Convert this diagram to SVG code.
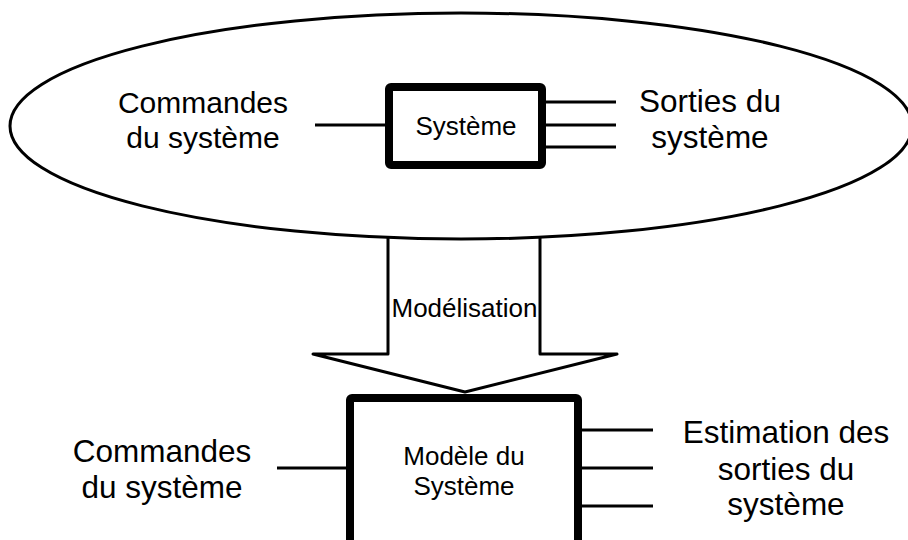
<svg xmlns="http://www.w3.org/2000/svg" width="908" height="540" viewBox="0 0 908 540">
<style>
text{font-family:"Liberation Sans",Arial,sans-serif;fill:#000;text-anchor:middle}
.big{font-size:30px}
.big2{font-size:31.5px}
.small{font-size:26px}
.box{fill:#fff;stroke:#000;stroke-width:8;stroke-linejoin:round}
.ln{stroke:#000;stroke-width:3;fill:none}
</style>
<rect width="908" height="540" fill="#fff"/>
<g id="modelisation">
<path d="M388,236 V354 H313 L465,392 L617,354 H540 V236" fill="#fff" stroke="#000" stroke-width="3" stroke-linejoin="round"/>
<text class="small" x="464.5" y="317">Modélisation</text>
</g>
<g id="real-world">
<ellipse cx="461" cy="126" rx="451" ry="113" fill="#fff" stroke="#000" stroke-width="3"/>
</g>
<g id="connectors">
<line class="ln" x1="315" y1="125" x2="389" y2="125"/>
<line class="ln" x1="542" y1="102" x2="616" y2="102"/>
<line class="ln" x1="542" y1="125" x2="616" y2="125"/>
<line class="ln" x1="542" y1="147" x2="616" y2="147"/>
<line class="ln" x1="277" y1="468" x2="350" y2="468"/>
<line class="ln" x1="578" y1="430" x2="653" y2="430"/>
<line class="ln" x1="578" y1="468" x2="653" y2="468"/>
<line class="ln" x1="578" y1="506" x2="653" y2="506"/>
</g>
<g id="systeme">
<rect class="box" x="389" y="87" width="153" height="78" rx="2"/>
<text class="small" x="466" y="135">Système</text>
</g>
<g id="commandes-top">
<text class="big" x="203" y="113">Commandes</text>
<text class="big" x="203" y="148">du système</text>
</g>
<g id="sorties-top">
<text class="big2" x="710" y="112">Sorties du</text>
<text class="big2" x="710" y="148">système</text>
</g>
<g id="modele">
<rect class="box" x="350" y="398" width="228" height="170" rx="2"/>
<text class="small" x="464" y="465">Modèle du</text>
<text class="small" x="464" y="495">Système</text>
</g>
<g id="commandes-bottom">
<text class="big2" x="162" y="462">Commandes</text>
<text class="big2" x="162" y="498">du système</text>
</g>
<g id="estimation">
<text class="big2" x="786" y="443">Estimation des</text>
<text class="big2" x="786" y="480">sorties du</text>
<text class="big2" x="786" y="515">système</text>
</g>
</svg>
